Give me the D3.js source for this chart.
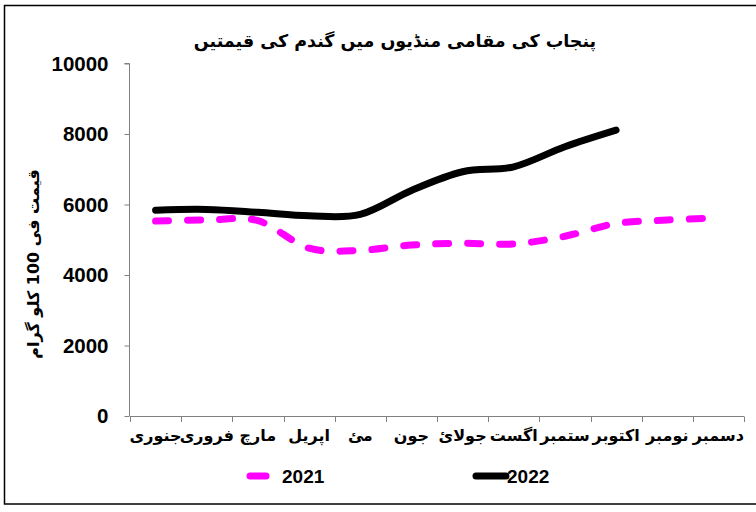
<!DOCTYPE html>
<html>
<head>
<meta charset="utf-8">
<script src="https://cdn.jsdelivr.net/npm/d3@7"></script>
<style>
  html, body { margin: 0; padding: 0; background: #fff; }
  svg { display: block; }
  .num { font-family: "Liberation Sans", Arial, sans-serif; font-weight: bold; }
  .ur { font-family: "DejaVu Sans", sans-serif; font-weight: bold; }
</style>
</head>
<body>
<svg id="chart" width="756" height="512"></svg>
<script>
const months = ["جنوری","فروری","مارچ","اپریل","مئ","جون","جولائ","اگست","ستمبر","اکتوبر","نومبر","دسمبر"];
const series2021 = [5530, 5560, 5540, 4760, 4700, 4850, 4900, 4880, 5100, 5460, 5560, 5620];
const series2022 = [5840, 5860, 5780, 5680, 5720, 6400, 6930, 7070, 7640, 8110];
const yTicks = [0, 2000, 4000, 6000, 8000, 10000];
const seriesNames = ["2021", "2022"];
const titleText = "پنجاب کی مقامی منڈیوں میں گندم کی قیمتیں";
const yTitle = "قیمت فی 100 کلو گرام";

const svg = d3.select("#chart");
svg.append("rect").attr("x", 0).attr("y", 0).attr("width", 756).attr("height", 512).attr("fill", "#fff");
svg.append("rect").attr("x", 4.5).attr("y", 5.5).attr("width", 760).attr("height", 498.5)
  .attr("fill", "none").attr("stroke", "#000").attr("stroke-width", 1.5);

const x = d3.scaleBand().domain(months).range([130, 744]);
const y = d3.scaleLinear().domain([0, 10000]).range([416, 63.5]);

// Y axis
const yAxis = svg.append("g").attr("transform", "translate(129.5,0)")
  .call(d3.axisLeft(y).tickValues(yTicks).tickSize(5).tickPadding(16).tickFormat(d3.format("d")));
yAxis.select(".domain").attr("stroke", "#808080").attr("d", `M-5,${y(10000)}H0V${y(0)}`);
yAxis.selectAll(".tick line").attr("stroke", "#808080");
yAxis.selectAll(".tick text").attr("class", "num").attr("font-size", 20.5).attr("fill", "#000");

// X axis (labels at category centres, ticks between categories)
const xAxis = svg.append("g").attr("transform", "translate(0,416.5)")
  .call(d3.axisBottom(x).tickSize(0).tickPadding(13));
xAxis.select(".domain").attr("stroke", "#808080").attr("d", `M${x.range()[0]},0H${x.range()[1]}`);
xAxis.selectAll(".tick text").attr("class", "ur").attr("font-size", 16).attr("fill", "#000");
const bounds = months.map(m => x(m)).concat([x.range()[1]]);
svg.append("g").selectAll("line").data(bounds).join("line")
  .attr("x1", d => Math.round(d) + 0.5).attr("x2", d => Math.round(d) + 0.5)
  .attr("y1", 416.5).attr("y2", 422).attr("stroke", "#808080");

// lines
const line = d3.line()
  .x((d, i) => x(months[i]) + x.bandwidth() / 2)
  .y(d => y(d))
  .curve(d3.curveCardinal.tension(0));

svg.append("path").datum(series2021).attr("d", line)
  .attr("fill", "none").attr("stroke", "#ff00ff").attr("stroke-width", 7)
  .attr("stroke-linecap", "round").attr("stroke-dasharray", "13,19");
svg.append("path").datum(series2022).attr("d", line)
  .attr("fill", "none").attr("stroke", "#000").attr("stroke-width", 7)
  .attr("stroke-linecap", "round");

// title
svg.append("text").attr("class", "ur").attr("x", 395).attr("y", 47)
  .attr("text-anchor", "middle").attr("font-size", 17.5).attr("fill", "#000")
  .attr("direction", "rtl").text(titleText);

// y title
svg.append("text").attr("class", "ur")
  .attr("transform", "translate(39,264) rotate(-90)")
  .attr("text-anchor", "middle").attr("font-size", 16).attr("fill", "#000")
  .text(yTitle);

// legend
const leg = svg.append("g");
leg.append("line").attr("x1", 250).attr("x2", 266).attr("y1", 476).attr("y2", 476)
  .attr("stroke", "#ff00ff").attr("stroke-width", 7).attr("stroke-linecap", "round");
leg.append("text").attr("class", "num").attr("x", 282).attr("y", 483)
  .attr("font-size", 19).attr("fill", "#000").text(seriesNames[0]);
leg.append("line").attr("x1", 476).attr("x2", 506).attr("y1", 476).attr("y2", 476)
  .attr("stroke", "#000").attr("stroke-width", 7).attr("stroke-linecap", "round");
leg.append("text").attr("class", "num").attr("x", 507).attr("y", 483)
  .attr("font-size", 19).attr("fill", "#000").text(seriesNames[1]);
</script>
</body>
</html>
